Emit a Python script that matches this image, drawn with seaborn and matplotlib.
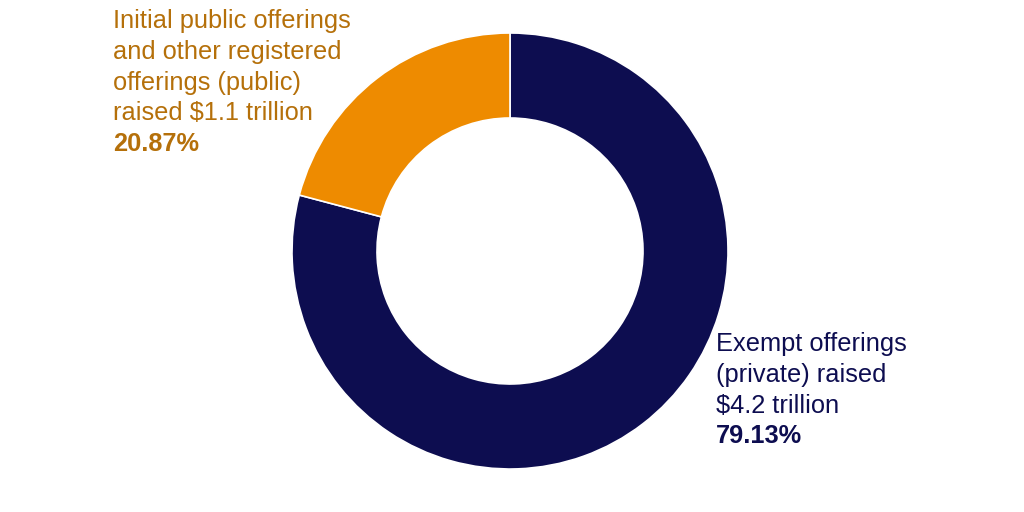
import matplotlib
matplotlib.use("Agg")
import matplotlib.pyplot as plt
import seaborn as sns

# Data
categories = ["Exempt offerings (private)", "Initial public offerings and other registered offerings (public)"]
shares = [79.13, 20.87]
label_lines = [
    ["Exempt offerings", "(private) raised", "$4.2 trillion"],
    ["Initial public offerings", "and other registered", "offerings (public)", "raised $1.1 trillion"],
]
pct_labels = ["79.13%", "20.87%"]

sns.set_theme(style="white")
plt.rcParams['font.family'] = ['Liberation Sans', 'DejaVu Sans']

wedge_colors = ["#0D0D50", "#EE8B00"]
text_colors = ["#0D0D50", "#B5700A"]

W, H = 1024, 512
fig = plt.figure(figsize=(W / 100, H / 100), dpi=100)
ax = fig.add_axes([0, 0, 1, 1])

cx, cy = 510, H - 251
R = 218
ring = 85
ax.pie(shares, colors=wedge_colors, startangle=90, counterclock=False,
       center=(cx, cy), radius=R,
       wedgeprops=dict(width=ring, edgecolor="white", linewidth=1.2))
ax.set_xlim(0, W)
ax.set_ylim(0, H)
ax.set_aspect("equal")
ax.axis("off")

fs = 18.3
step = 30.8
# label anchors (left x, first baseline from top)
anchors = [(716, 351), (113, 28)]
for lines, pct, col, (x0, b0) in zip(label_lines, pct_labels, text_colors, anchors):
    for i, line in enumerate(lines):
        ax.text(x0, H - (b0 + i * step), line, color=col, fontsize=fs,
                ha="left", va="baseline")
    ax.text(x0, H - (b0 + len(lines) * step), pct, color=col, fontsize=fs,
            fontweight="bold", ha="left", va="baseline")

fig.savefig("out.png", dpi=100, facecolor="white")
